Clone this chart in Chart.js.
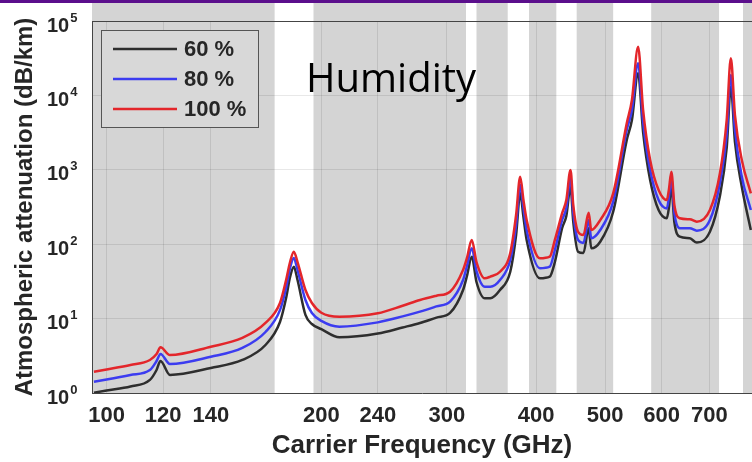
<!DOCTYPE html>
<html>
<head>
<meta charset="utf-8">
<title>Atmospheric attenuation vs humidity</title>
<script src="https://cdn.jsdelivr.net/npm/chart.js@4.4.0/dist/chart.umd.min.js"></script>
<style>
    html, body { margin: 0; padding: 0; background: #fff; }
    #box { width: 752px; height: 462px; position: relative; }
</style>
</head>
<body>
<div id="box"><canvas id="attChart" width="752" height="462"></canvas></div>
<script>
// carrier frequency (GHz) where the curves were read
const freqGHz = [96, 100, 108, 115, 117.5, 119, 122.7, 140, 155, 167, 175, 178.5, 180.8, 183, 185.2, 190, 194, 200, 212, 240,
    260, 275, 290, 303, 316, 320, 325, 330, 339, 345, 356, 368, 375, 380, 384, 388, 405, 418, 425, 435, 441, 447,
    451, 458, 466, 474, 478, 492, 513, 536, 545, 556, 565, 578, 594, 610, 614, 619, 625, 636, 657, 672,
    701, 724, 740, 750, 760, 777, 800];

// attenuation (dB/km) for each humidity
const hum60 = [1.01, 1.08, 1.22, 1.5, 2.04, 2.69, 1.75, 2.17, 2.78, 4.42, 9.0, 18.9, 36.2, 49.9, 33.0, 11.2, 8.46, 7.2, 5.6, 6.3,
    7.6, 8.73, 10.3, 11.9, 24.2, 37.4, 67.9, 31.0, 18.7, 18.7, 24.2, 42.7, 133, 483, 232, 114, 34.8, 36.6, 57.6, 164, 239, 593,
    199, 79.3, 76.2, 164, 88.1, 108, 273, 2516, 4670, 19800, 3220, 729, 288, 223, 307, 593, 199, 126, 120, 105,
    147, 444, 1963, 13100, 2365, 593, 155];
const hum80 = [1.42, 1.52, 1.75, 2.04, 2.69, 3.34, 2.45, 3.07, 4.03, 6.61, 13.0, 25.8, 47.9, 65.3, 45.0, 17.8, 11.9, 9.3, 7.8, 8.9,
    10.7, 12.4, 14.6, 16.9, 33.0, 50.9, 88.1, 43.6, 26.8, 26.8, 33.0, 61.3, 181, 625, 307, 155, 47.5, 49.9, 83.6, 211, 307, 769,
    263, 114, 104, 211, 120, 155, 373, 3430, 6370, 27000, 4390, 994, 393, 303, 418, 769, 263, 164, 164, 152,
    211, 665, 2940, 18800, 3430, 808, 288];
const hum100 = [1.93, 2.07, 2.38, 2.78, 3.34, 4.11, 3.24, 4.19, 5.49, 8.73, 16.2, 33.0, 57.6, 79.3, 57.6, 24.2, 16.2, 12.0, 10.6, 11.8,
    14.9, 17.8, 20.3, 23.0, 45.0, 65.3, 113.8, 57.6, 34.8, 36.6, 42.7, 76.2, 247, 808, 393, 211, 64.6, 67.9, 114, 260, 393, 994,
    337, 147, 133, 265, 155, 211, 483, 4218, 8670, 45000, 6370, 1354, 535, 393, 535, 942, 337, 223, 216, 201,
    288, 898, 4670, 31500, 5450, 1354, 483];

const seriesLabels = ["60 %", "80 %", "100 %"];
const seriesColors = ["#2e2e2e", "#3c3cf0", "#e3262b"];

// tick labels
const xTicks = [100, 120, 140, 200, 240, 300, 400, 500, 600, 700];
const yTicks = [1, 10, 100, 1000, 10000, 100000];

// shaded frequency bands (GHz)
const bandStart = [95, 195, 330, 391, 456, 580, 780];
const bandEnd = [172, 319, 365, 427, 513, 722, 810];

const FONT = "'Liberation Sans', Arial, Helvetica, sans-serif";
const TXT = "#262626";

function toPoints(vals) {
    return freqGHz.map((f, i) => ({ x: f, y: vals[i] }));
}

// ✅ grey bands behind the grid and the curves
const bandsPlugin = {
    id: "bands",
    beforeDraw(chart) {
        const ctx = chart.ctx;
        const xs = chart.scales.x;
        const area = chart.chartArea;
        ctx.save();
        ctx.fillStyle = "#d4d4d4";
        bandStart.forEach((s, i) => {
            const x0 = Math.max(xs.getPixelForValue(s), area.left);
            const x1 = Math.min(xs.getPixelForValue(bandEnd[i]), chart.width);
            ctx.fillRect(x0, 0, x1 - x0, area.bottom);
        });
        ctx.restore();
    }
};

// ✅ box line, y labels as powers of ten, legend, caption, top bar
const overlayPlugin = {
    id: "overlay",
    afterDraw(chart) {
        const ctx = chart.ctx;
        const area = chart.chartArea;
        const ys = chart.scales.y;
        ctx.save();

        // top box line
        ctx.strokeStyle = "#444";
        ctx.lineWidth = 1;
        ctx.beginPath();
        ctx.moveTo(area.left, area.top + 0.5);
        ctx.lineTo(area.right, area.top + 0.5);
        ctx.stroke();

        // y tick labels 10^n
        ctx.fillStyle = TXT;
        ctx.textBaseline = "middle";
        ctx.textAlign = "left";
        ys.ticks.forEach(t => {
            const y = ys.getPixelForValue(t.value);
            const exp = Math.round(Math.log10(t.value));
            ctx.font = "bold 20px " + FONT;
            ctx.fillText("10", 47, y + 5);
            const w = ctx.measureText("10").width;
            ctx.font = "bold 13px " + FONT;
            ctx.fillText(String(exp), 47 + w + 1, y - 3);
        });

        // legend
        const lx = 101, ly = 30, lw = 157, lh = 97;
        ctx.fillStyle = "#d8d8d8";
        ctx.fillRect(lx, ly, lw, lh);
        ctx.strokeStyle = "#555";
        ctx.strokeRect(lx + 0.5, ly + 0.5, lw, lh);
        chart.data.datasets.forEach((ds, i) => {
            const ry = ly + 19 + i * 30;
            ctx.strokeStyle = ds.borderColor;
            ctx.lineWidth = 2.5;
            ctx.beginPath();
            ctx.moveTo(113, ry);
            ctx.lineTo(177, ry);
            ctx.stroke();
            ctx.fillStyle = TXT;
            ctx.font = "bold 22px " + FONT;
            ctx.fillText(ds.label, 184, ry + 1);
        });

        // caption
        ctx.fillStyle = "#000";
        ctx.textBaseline = "alphabetic";
        ctx.font = "40px 'Open Sans', sans-serif";
        ctx.fillText("Humidity", 306, 92);

        // purple strip at the very top
        ctx.fillStyle = "#5b0f8c";
        ctx.fillRect(0, 0, chart.width, 3);
        ctx.restore();
    }
};

const ctx = document.getElementById("attChart").getContext("2d");

const attChart = new Chart(ctx, {
    type: "line",
    data: {
        datasets: [hum60, hum80, hum100].map((vals, i) => ({
            label: seriesLabels[i],
            data: toPoints(vals),
            borderColor: seriesColors[i],
            backgroundColor: seriesColors[i],
            borderWidth: 2.5,
            pointRadius: 0,
            cubicInterpolationMode: "monotone",
            order: 3 - i // red on top
        }))
    },
    options: {
        responsive: false,
        animation: false,
        layout: { padding: { top: 21, right: 0, left: 0, bottom: 0 } },
        plugins: {
            legend: { display: false },
            tooltip: { enabled: false }
        },
        scales: {
            x: {
                type: "logarithmic",
                min: 95.4,
                max: 803,
                afterBuildTicks: s => { s.ticks = xTicks.map(v => ({ value: v })); },
                afterFit: s => { s.height = 69; },
                ticks: {
                    autoSkip: false,
                    maxRotation: 0,
                    padding: 10,
                    color: TXT,
                    font: { family: FONT, size: 22, weight: "bold" },
                    callback: v => String(v)
                },
                grid: { color: "rgba(0,0,0,0.09)", drawTicks: false },
                border: { color: "#444" },
                title: {
                    display: true,
                    text: "Carrier Frequency (GHz)",
                    color: TXT,
                    font: { family: FONT, size: 26, weight: "bold" },
                    padding: { top: 0, bottom: 1 }
                }
            },
            y: {
                type: "logarithmic",
                min: 1,
                max: 100000,
                afterBuildTicks: s => { s.ticks = yTicks.map(v => ({ value: v })); },
                afterFit: s => { s.width = 92; },
                ticks: { display: false },
                grid: { color: "rgba(0,0,0,0.09)", drawTicks: false },
                border: { color: "#444" },
                title: {
                    display: true,
                    text: "Atmospheric attenuation (dB/km)",
                    color: TXT,
                    font: { family: FONT, size: 24, weight: "bold" },
                    padding: { top: 11, bottom: 0 }
                }
            }
        }
    },
    plugins: [bandsPlugin, overlayPlugin]
});
</script>
</body>
</html>
